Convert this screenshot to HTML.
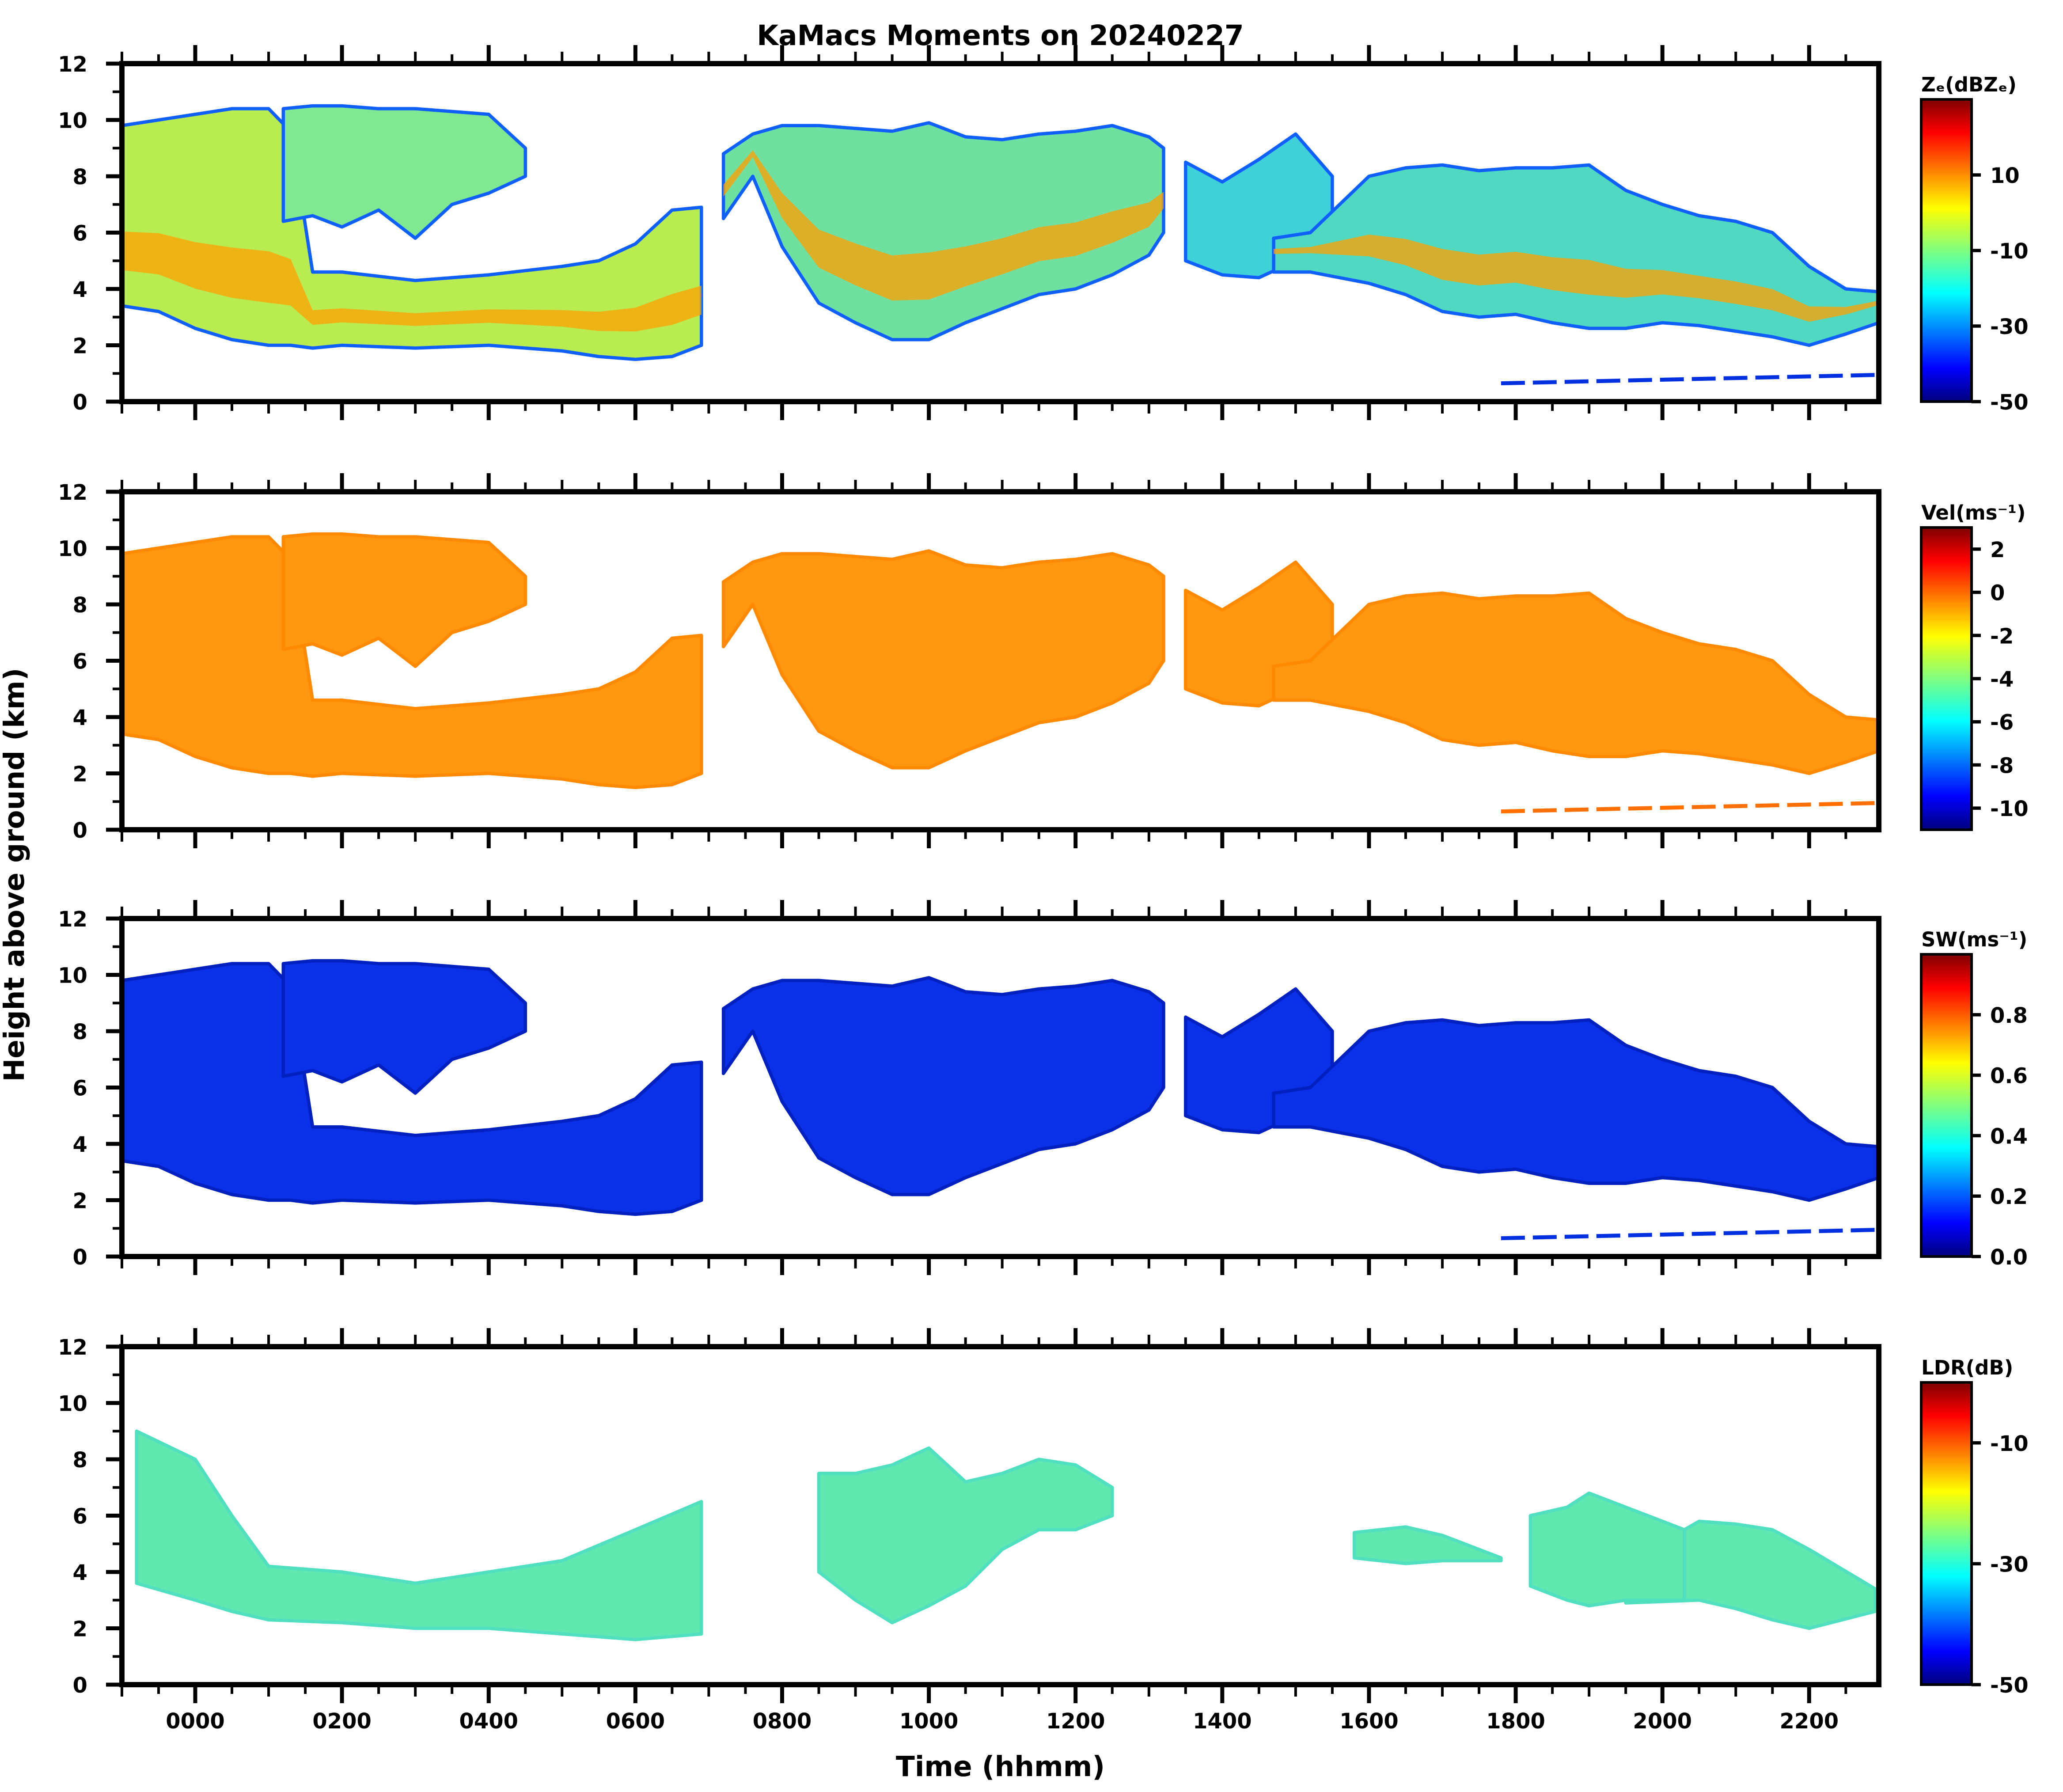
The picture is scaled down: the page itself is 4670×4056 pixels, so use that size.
<!DOCTYPE html>
<html><head><meta charset="utf-8"><style>
html,body{margin:0;padding:0;background:#fff;width:4670px;height:4056px;overflow:hidden}
svg text{font-family:"DejaVu Sans","Liberation Sans",sans-serif;font-weight:bold}
</style></head><body>
<svg id="fig" xmlns="http://www.w3.org/2000/svg" width="4670" height="4056" viewBox="0 0 1557 1352" preserveAspectRatio="none">
<defs>
<linearGradient id="jet" x1="0" y1="1" x2="0" y2="0">
<stop offset="0" stop-color="#00007f"/><stop offset="0.11" stop-color="#0000ff"/><stop offset="0.36" stop-color="#00ffff"/>
<stop offset="0.5" stop-color="#7fff7f"/><stop offset="0.64" stop-color="#ffff00"/><stop offset="0.89" stop-color="#ff0000"/><stop offset="1" stop-color="#7f0000"/>
</linearGradient>
</defs>
<text x="755" y="34" font-size="21" text-anchor="middle">KaMacs Moments on 20240227</text>
<text transform="translate(18,660) rotate(-90)" font-size="21" text-anchor="middle">Height above ground (km)</text>
<text x="755" y="1340" font-size="21" text-anchor="middle">Time (hhmm)</text>
<g id="panels"></g>
</svg>
<script>
// data (hours relative to 0000 UTC, heights in km)
const timeTicks = [0,2,4,6,8,10,12,14,16,18,20,22];
const timeTickLabels = ["0000","0200","0400","0600","0800","1000","1200","1400","1600","1800","2000","2200"];
const heightTicks = [0,2,4,6,8,10,12];
const xDomain = [-1, 22.95];
const yDomain = [0, 12];
// cloud layers: times, bases, tops
const layerATime = [-1,-0.5,0,0.5,1,1.3,1.6,2,3,4,5,5.5,6,6.5,6.9];
const layerABase = [3.4,3.2,2.6,2.2,2.0,2.0,1.9,2.0,1.9,2.0,1.8,1.6,1.5,1.6,2.0];
const layerATop  = [9.8,10.0,10.2,10.4,10.4,9.6,4.6,4.6,4.3,4.5,4.8,5.0,5.6,6.8,6.9];
const layerBTime = [1.2,1.6,2,2.5,3,3.5,4,4.5];
const layerBBase = [6.4,6.6,6.2,6.8,5.8,7.0,7.4,8.0];
const layerBTop  = [10.4,10.5,10.5,10.4,10.4,10.3,10.2,9.0];
const layerCTime = [7.2,7.6,8,8.5,9,9.5,10,10.5,11,11.5,12,12.5,13,13.2];
const layerCBase = [6.5,8.0,5.5,3.5,2.8,2.2,2.2,2.8,3.3,3.8,4.0,4.5,5.2,6.0];
const layerCTop  = [8.8,9.5,9.8,9.8,9.7,9.6,9.9,9.4,9.3,9.5,9.6,9.8,9.4,9.0];
const layerDTime = [13.5,14,14.5,15,15.5];
const layerDBase = [5.0,4.5,4.4,5.0,5.5];
const layerDTop  = [8.5,7.8,8.6,9.5,8.0];
const layerETime = [14.7,15.2,16,16.5,17,17.5,18,18.5,19,19.5,20,20.5,21,21.5,22,22.5,22.95];
const layerEBase = [4.6,4.6,4.2,3.8,3.2,3.0,3.1,2.8,2.6,2.6,2.8,2.7,2.5,2.3,2.0,2.4,2.8];
const layerETop  = [5.8,6.0,8.0,8.3,8.4,8.2,8.3,8.3,8.4,7.5,7.0,6.6,6.4,6.0,4.8,4.0,3.9];
// LDR regions
const ldrATime = [-0.8,0,0.5,1,2,3,4,5,6,6.9];
const ldrABase = [3.6,3.0,2.6,2.3,2.2,2.0,2.0,1.8,1.6,1.8];
const ldrATop  = [9.0,8.0,6.0,4.2,4.0,3.6,4.0,4.4,5.5,6.5];
const ldrBTime = [8.5,9,9.5,10,10.5,11,11.5,12,12.5];
const ldrBBase = [4.0,3.0,2.2,2.8,3.5,4.8,5.5,5.5,6.0];
const ldrBTop  = [7.5,7.5,7.8,8.4,7.2,7.5,8.0,7.8,7.0];
const ldrCTime = [19.5,20.5,21,21.5,22,22.9];
const ldrCBase = [2.9,3.0,2.7,2.3,2.0,2.6];
const ldrCTop  = [4.3,5.8,5.7,5.5,4.8,3.4];
const ldrDTime = [18.2,18.7,19,19.5,20.3];
const ldrDBase = [3.5,3.0,2.8,3.0,3.0];
const ldrDTop  = [6.0,6.3,6.8,6.3,5.5];
const ldrETime = [15.8,16.5,17,17.8];
const ldrEBase = [4.5,4.3,4.4,4.4];
const ldrETop  = [5.4,5.6,5.3,4.5];
// colorbar ticks
const cbZeTicks = [10,-10,-30,-50], cbZeRange=[-50,30];
const cbVelTicks = [2,0,-2,-4,-6,-8,-10], cbVelRange=[-11,3];
const cbSwTicks = ["0.8","0.6","0.4","0.2","0.0"], cbSwRange=[0,1];
const cbLdrTicks = [-10,-30,-50], cbLdrRange=[-50,0];

const NS="http://www.w3.org/2000/svg";
const G=document.getElementById('panels');
const X0=92,X1=1418;
const panelTops=[48,371,693,1016], PH=255;
function mk(t,a,p){const e=document.createElementNS(NS,t);for(const k in a)e.setAttribute(k,a[k]);(p||G).appendChild(e);return e;}
const sx=h=>X0+(h-xDomain[0])/(xDomain[1]-xDomain[0])*(X1-X0);

const panels=[
 {name:'ze',layers:[[layerATime,layerABase,layerATop],[layerBTime,layerBBase,layerBTop],[layerCTime,layerCBase,layerCTop],[layerDTime,layerDBase,layerDTop],[layerETime,layerEBase,layerETop]],fills:['#b8ec50','#80e890','#70e0a0','#40d0d8','#50d8c0'],edge:'#1060ff',core:'#ffa000',cb:'Z\u2091(dBZ\u2091)',ticks:cbZeTicks,range:cbZeRange,clutter:'#0030e0'},
 {name:'vel',layers:[[layerATime,layerABase,layerATop],[layerBTime,layerBBase,layerBTop],[layerCTime,layerCBase,layerCTop],[layerDTime,layerDBase,layerDTop],[layerETime,layerEBase,layerETop]],fill:'#ff9810',edge:'#ff8a00',core:null,cb:'Vel(ms\u207b\u00b9)',ticks:cbVelTicks,range:cbVelRange,clutter:'#ff7000'},
 {name:'sw',layers:[[layerATime,layerABase,layerATop],[layerBTime,layerBBase,layerBTop],[layerCTime,layerCBase,layerCTop],[layerDTime,layerDBase,layerDTop],[layerETime,layerEBase,layerETop]],fill:'#0a30e8',edge:'#0020c0',core:null,cb:'SW(ms\u207b\u00b9)',ticks:cbSwTicks.map(Number),labels:cbSwTicks,range:cbSwRange,clutter:'#0030e0'},
 {name:'ldr',layers:[[ldrATime,ldrABase,ldrATop],[ldrBTime,ldrBBase,ldrBTop],[ldrCTime,ldrCBase,ldrCTop],[ldrDTime,ldrDBase,ldrDTop],[ldrETime,ldrEBase,ldrETop]],fill:'#60e8b0',edge:'#50e0c0',core:null,cb:'LDR(dB)',ticks:cbLdrTicks,range:cbLdrRange,clutter:null}
];

panels.forEach((p,i)=>{
 const top=panelTops[i], bot=top+PH;
 const sy=v=>bot-(v-yDomain[0])/(yDomain[1]-yDomain[0])*PH;
 const g=mk('g',{});
 
 
 p.layers.forEach((L,j)=>{
  const [t,b,tp]=L;
  let d='M'+t.map((h,k)=>sx(h)+','+sy(tp[k])).join(' L');
  for(let k=t.length-1;k>=0;k--) d+=' L'+sx(t[k])+','+sy(b[k]);
  d+='Z';
  const e=mk('path',{d:d,fill:p.fills?p.fills[j]:p.fill,stroke:p.edge,'stroke-width':2.5,'stroke-linejoin':'round'},g);
  
  
  if(p.core && j!==1 && j!==3){
   let d2='M'+t.map((h,k)=>sx(h)+','+sy(b[k]+0.5+(tp[k]-b[k])*0.12)).join(' L');
   for(let k=t.length-1;k>=0;k--) d2+=' L'+sx(t[k])+','+sy(b[k]+0.4+(tp[k]-b[k])*0.35);
   d2+='Z';
   const c=mk('path',{d:d2,fill:p.core,opacity:0.75},g);
   
   
  }
 });
 if(p.clutter){
  const c=mk('path',{d:`M${sx(17.8)},${sy(0.65)} L${sx(22.95)},${sy(0.95)}`,stroke:p.clutter,'stroke-width':3,'stroke-dasharray':'18 6'},g);
  
  
 }
 const f=mk('rect',{x:X0,y:top,width:X1-X0,height:PH,fill:'none',stroke:'#000','stroke-width':4},g);
 
 
 for(let v=0;v<=12;v++){
  const maj=v%2===0;
  mk('line',{x1:X0,x2:X0-(maj?12:7),y1:sy(v),y2:sy(v),stroke:'#000','stroke-width':maj?3:2},g);
 }
 heightTicks.forEach(v=>{
  const t=mk('text',{x:66,y:sy(v)+6,'font-size':16,'text-anchor':'end'},g);
  t.textContent=v;
  
  
 });
 for(let h=-1;h<=22.9;h+=0.5){
  const maj=Math.abs(h-Math.round(h))<1e-6 && Math.round(h)%2===0;
  const mid=Math.abs(h-Math.round(h))<1e-6;
  const L=maj?14:(mid?9:7);
  mk('line',{x1:sx(h),x2:sx(h),y1:bot,y2:bot+L,stroke:'#000','stroke-width':maj?3:2},g);
  mk('line',{x1:sx(h),x2:sx(h),y1:top,y2:top-L,stroke:'#000','stroke-width':maj?3:2},g);
 }
 if(i===3){
  timeTicks.forEach((h,k)=>{
   const t=mk('text',{x:sx(h),y:bot+33,'font-size':16,'text-anchor':'middle'},g);
   t.textContent=timeTickLabels[k];
   
   
  });
 }
 const cbTop=top+27, cbBot=bot, cx=1450, cw=38;
 const cb=mk('rect',{x:cx,y:cbTop,width:cw,height:cbBot-cbTop,fill:'url(#jet)',stroke:'#000','stroke-width':2},g);
 
 
 const ct=mk('text',{x:1450,y:cbTop-6,'font-size':15},g);
 ct.textContent=p.cb;
 
 
 const cy=v=>cbBot-(v-p.range[0])/(p.range[1]-p.range[0])*(cbBot-cbTop);
 p.ticks.forEach((v,k)=>{
  mk('line',{x1:cx+cw,x2:cx+cw+7,y1:cy(v),y2:cy(v),stroke:'#000','stroke-width':2.5},g);
  const t=mk('text',{x:cx+cw+14,y:cy(v)+6,'font-size':16},g);
  t.textContent=p.labels?p.labels[k]:v;
  
  
 });
});
</script>
</body></html>
